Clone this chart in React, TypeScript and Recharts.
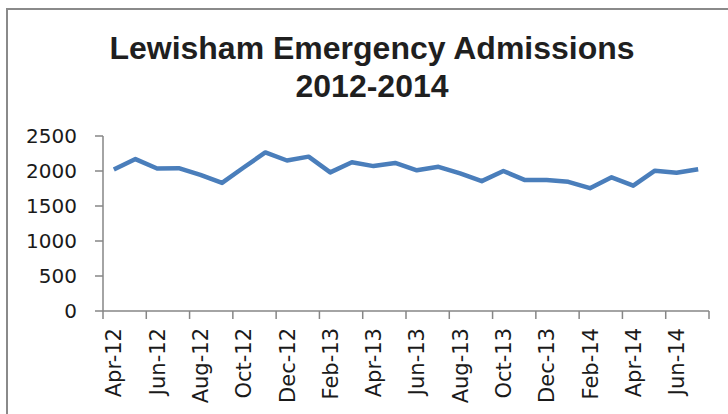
import React from 'react';
import { LineChart, Line, XAxis, YAxis } from 'recharts';

// monthly emergency admissions, Apr-12 .. Jul-14
const months = [
  'Apr-12', 'May-12', 'Jun-12', 'Jul-12', 'Aug-12', 'Sep-12', 'Oct-12', 'Nov-12',
  'Dec-12', 'Jan-13', 'Feb-13', 'Mar-13', 'Apr-13', 'May-13', 'Jun-13', 'Jul-13',
  'Aug-13', 'Sep-13', 'Oct-13', 'Nov-13', 'Dec-13', 'Jan-14', 'Feb-14', 'Mar-14',
  'Apr-14', 'May-14', 'Jun-14', 'Jul-14',
];
const admissions = [
  2020, 2170, 2035, 2040, 1945, 1830, 2050, 2265,
  2150, 2205, 1980, 2125, 2070, 2115, 2010, 2060,
  1965, 1855, 2000, 1870, 1870, 1845, 1755, 1910,
  1790, 2005, 1975, 2025,
];
const yTicks = [0, 500, 1000, 1500, 2000, 2500];

// category i sits in the middle of its slot [i, i+1]
const data = months.map((m, i) => ({ month: m, pos: i + 0.5, value: admissions[i] }));
const boundaryTicks = months.map((_, i) => i).filter((i) => i % 2 === 0).concat(months.length);
const labelTicks = months.map((_, i) => i).filter((i) => i % 2 === 0).map((i) => i + 0.5);

const axisColor = '#868686';
const font = '"DejaVu Sans", sans-serif';

const MonthTick = (props: any) => {
  const { x, y, payload } = props;
  const label = months[Math.floor(payload.value)];
  return (
    <text
      x={x}
      y={y}
      dy="0.36em"
      textAnchor="end"
      transform={`rotate(-90, ${x}, ${y})`}
      fontFamily={font}
      fontSize={21}
      fill="#1a1a1a"
    >
      {label}
    </text>
  );
};

const NoTick = () => <g />;

export default function App() {
  return (
    <div
      style={{
        position: 'absolute',
        left: 0,
        top: 0,
        width: 728,
        height: 414,
        overflow: 'hidden',
        background: '#fff',
      }}
    >
      <div
        style={{
          position: 'absolute',
          left: 6,
          top: 8,
          width: 900,
          height: 600,
          borderLeft: '2px solid #8a8a8a',
          borderTop: '2px solid #8a8a8a',
        }}
      />
      <div
        style={{
          position: 'absolute',
          left: 0,
          top: 29,
          width: 744,
          textAlign: 'center',
          fontFamily: '"Liberation Sans", Arial, sans-serif',
          fontWeight: 'bold',
          fontSize: 32,
          lineHeight: '38px',
          color: '#1f1f1f',
        }}
      >
        Lewisham Emergency Admissions
        <br />
        2012-2014
      </div>
      <div style={{ position: 'absolute', left: 0, top: 0 }}>
        <LineChart
          width={728}
          height={414}
          data={data}
          margin={{ top: 136, right: 19, bottom: 13, left: 43 }}
        >
          <XAxis
            xAxisId="bounds"
            type="number"
            dataKey="pos"
            domain={[0, months.length]}
            ticks={boundaryTicks}
            interval={0}
            height={1}
            tick={<NoTick />}
            tickSize={8}
            axisLine={{ stroke: axisColor, strokeWidth: 1.5 }}
            tickLine={{ stroke: axisColor, strokeWidth: 1.5 }}
          />
          <XAxis
            xAxisId="labels"
            type="number"
            dataKey="pos"
            domain={[0, months.length]}
            ticks={labelTicks}
            interval={0}
            height={89}
            axisLine={false}
            tickLine={false}
            tickSize={0}
            tickMargin={16}
            tick={<MonthTick />}
          />
          <YAxis
            type="number"
            domain={[0, 2500]}
            ticks={yTicks}
            interval={0}
            width={60}
            tickSize={8}
            tickMargin={18}
            axisLine={{ stroke: axisColor, strokeWidth: 1.5 }}
            tickLine={{ stroke: axisColor, strokeWidth: 1.5 }}
            tick={{ fontFamily: font, fontSize: 20, fill: '#1a1a1a' }}
          />
          <Line
            xAxisId="bounds"
            type="linear"
            dataKey="value"
            stroke="#4a7ebb"
            strokeWidth={4.5}
            strokeLinejoin="round"
            dot={false}
            isAnimationActive={false}
          />
        </LineChart>
      </div>
    </div>
  );
}
